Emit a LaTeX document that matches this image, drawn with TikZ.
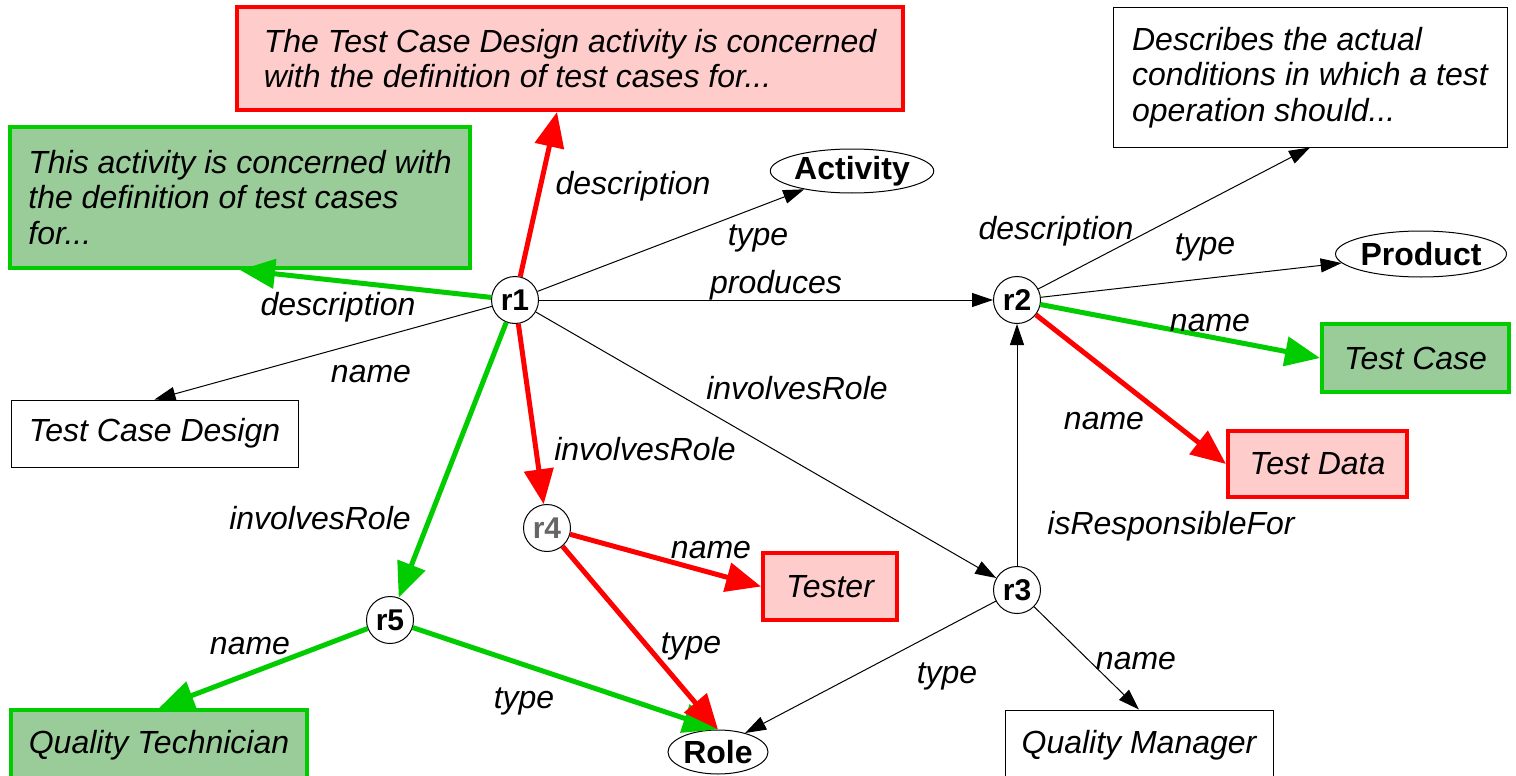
\documentclass[tikz,border=0pt]{standalone}
\usepackage{fontspec}
\setmainfont{Liberation Sans}
\usetikzlibrary{arrows.meta,shapes.geometric}
\definecolor{myred}{HTML}{FF0000}
\definecolor{mypink}{HTML}{FFCCCC}
\definecolor{mygreen}{HTML}{00CC00}
\definecolor{mygreenfill}{HTML}{99CC99}
\definecolor{mygrey}{HTML}{666666}
\begin{document}
\begin{tikzpicture}[x=1pt,y=-1pt,
 res/.style={circle,draw,fill=white,line width=1pt,minimum size=47pt,inner sep=0pt,font=\fontsize{30}{34}\selectfont\bfseries},
 cls/.style={ellipse,draw,fill=white,line width=1pt,inner sep=0pt,font=\fontsize{32}{36}\selectfont\bfseries},
 lit/.style={rectangle,draw,line width=1pt,fill=white,inner sep=0pt,font=\fontsize{32}{35.5}\selectfont\itshape},
 redlit/.style={lit,draw=myred,fill=mypink,line width=4pt},
 greenlit/.style={lit,draw=mygreen,fill=mygreenfill,line width=4pt},
 multi/.style={align=left},
 lbl/.style={font=\fontsize{32}{36}\selectfont\itshape,inner sep=0pt},
 thinarr/.style={-{Triangle[length=21pt,width=14pt]},line width=1pt},
 redarr/.style={-{Triangle[length=35pt,width=29pt]},line width=5pt,draw=myred},
 greenarr/.style={-{Triangle[length=35pt,width=29pt]},line width=5pt,draw=mygreen},
]
\useasboundingbox (0,0) rectangle (1516,776);
\fill[white] (0,0) rectangle (1516,776);

% resources
\node[res] (r1) at (515,300) {r1};
\node[res] (r2) at (1017,300) {r2};
\node[res] (r3) at (1017,590) {r3};
\node[res,text=mygrey] (r4) at (547,528) {r4};
\node[res] (r5) at (390,620) {r5};

% classes
\node[cls,minimum width=160pt,minimum height=44pt] (act) at (852,171) {Activity};
\node[cls,minimum width=170pt,minimum height=46pt] (prod) at (1421,254) {Product};
\node[cls,minimum width=100pt,minimum height=44pt] (role) at (718,752) {Role};

% literals
\node[redlit,multi,minimum width=666pt,minimum height=103pt] (d1) at (570,58.5)
  {The Test Case Design activity is concerned\\with the definition of test cases for...};
\node[greenlit,multi,minimum width=460pt,minimum height=141pt] (d2) at (240,197.5)
  {This activity is concerned with\\the definition of test cases\\for...};
\node[lit,multi,minimum width=394pt,minimum height=139pt] (d3) at (1310,77.5)
  {Describes the actual\\conditions in which a test\\operation should...};
\node[lit,minimum width=287pt,minimum height=67pt] (tcd) at (154.5,433.5) {Test Case Design};
\node[greenlit,minimum width=187pt,minimum height=68pt] (tc) at (1415.5,358) {Test Case};
\node[redlit,minimum width=179pt,minimum height=66pt] (td) at (1317.5,464) {Test Data};
\node[redlit,minimum width=134pt,minimum height=67pt] (tester) at (830,586.5) {Tester};
\node[greenlit,minimum width=296pt,minimum height=70pt] (qt) at (159,745) {Quality Technician};
\node[lit,minimum width=268pt,minimum height=70pt] (qm) at (1139,745) {Quality Manager};

% edges
\draw[redarr] (r1) -- ([xshift=-13pt]d1.south);
\draw[greenarr] (r1) -- (d2.south);
\draw[thinarr] (r1) -- (act);
\draw[thinarr] (r1) -- (r2);
\draw[thinarr] (r1) -- (tcd.north);
\draw[greenarr] (r1) -- (r5);
\draw[redarr] (r1) -- (r4);
\draw[thinarr] (r1) -- (r3);
\draw[thinarr] (r2) -- (d3.south);
\draw[thinarr] (r2) -- (prod);
\draw[greenarr] (r2) -- (tc.west);
\draw[redarr] (r2) -- (td.west);
\draw[thinarr] (r3) -- (r2);
\draw[thinarr] (r3) -- (role.35);
\draw[thinarr] (r3) -- (qm.north);
\draw[redarr] (r4) -- (tester.west);
\draw[greenarr] (r5) -- (qt.north);
\draw[greenarr] (r5) -- (role.north);
\draw[redarr] (r4) -- (role.north);

% labels
\node[lbl] (l1) at (633,186) {description};
\node[lbl] (l2) at (338,307) {description};
\node[lbl] (l3) at (758,238) {type};
\node[lbl] (l4) at (776,285) {produces};
\node[lbl] (l5) at (371,374) {name};
\node[lbl] (l6) at (320,518) {involvesRole};
\node[lbl] (l7) at (645,449) {involvesRole};
\node[lbl] (l8) at (797,388) {involvesRole};
\node[lbl] (l9) at (1056,231) {description};
\node[lbl] (l10) at (1205,247) {type};
\node[lbl] (l11) at (1210,323) {name};
\node[lbl] (l12) at (1104,421) {name};
\node[lbl] (l13) at (1171,526) {isResponsibleFor};
\node[lbl] (l14) at (947,676) {type};
\node[lbl] (l15) at (1136,661) {name};
\node[lbl] (l16) at (711,550) {name};
\node[lbl] (l17) at (691,646) {type};
\node[lbl] (l18) at (250,646) {name};
\node[lbl] (l19) at (524,701) {type};
\end{tikzpicture}
\end{document}
